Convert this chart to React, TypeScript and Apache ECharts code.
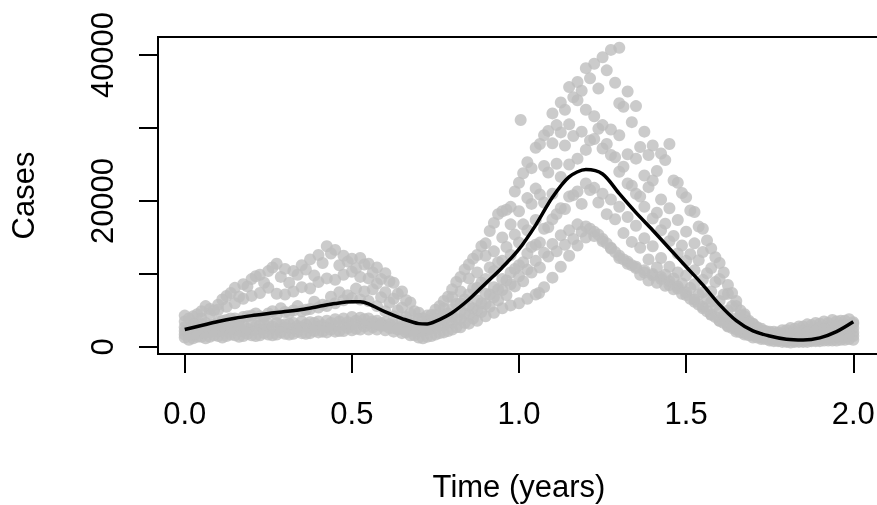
import React, { useEffect, useRef } from "react";
import * as echarts from "echarts";

// Sampling times (years) for the first six trajectories
const times = [0, 0.025, 0.05, 0.075, 0.1, 0.125, 0.15, 0.175, 0.2, 0.225, 0.25, 0.275, 0.3, 0.325, 0.35, 0.375, 0.4, 0.425, 0.45, 0.475, 0.5, 0.525, 0.55, 0.575, 0.6, 0.625, 0.65, 0.675, 0.7, 0.725, 0.75, 0.775, 0.8, 0.825, 0.85, 0.875, 0.9, 0.925, 0.95, 0.975, 1, 1.025, 1.05, 1.075, 1.1, 1.125, 1.15, 1.175, 1.2, 1.225, 1.25, 1.275, 1.3, 1.325, 1.35, 1.375, 1.4, 1.425, 1.45, 1.475, 1.5, 1.525, 1.55, 1.575, 1.6, 1.625, 1.65, 1.675, 1.7, 1.725, 1.75, 1.775, 1.8, 1.825, 1.85, 1.875, 1.9, 1.925, 1.95, 1.975, 2];
// Sampling times (years) for the other four trajectories
const timesMid = [0.0125, 0.0375, 0.0625, 0.0875, 0.1125, 0.1375, 0.1625, 0.1875, 0.2125, 0.2375, 0.2625, 0.2875, 0.3125, 0.3375, 0.3625, 0.3875, 0.4125, 0.4375, 0.4625, 0.4875, 0.5125, 0.5375, 0.5625, 0.5875, 0.6125, 0.6375, 0.6625, 0.6875, 0.7125, 0.7375, 0.7625, 0.7875, 0.8125, 0.8375, 0.8625, 0.8875, 0.9125, 0.9375, 0.9625, 0.9875, 1.0125, 1.0375, 1.0625, 1.0875, 1.1125, 1.1375, 1.1625, 1.1875, 1.2125, 1.2375, 1.2625, 1.2875, 1.3125, 1.3375, 1.3625, 1.3875, 1.4125, 1.4375, 1.4625, 1.4875, 1.5125, 1.5375, 1.5625, 1.5875, 1.6125, 1.6375, 1.6625, 1.6875, 1.7125, 1.7375, 1.7625, 1.7875, 1.8125, 1.8375, 1.8625, 1.8875, 1.9125, 1.9375, 1.9625, 1.9875];

// Observed cases, one array per trajectory (grey points)
const casesA = [4300, 4200, 4900, 5200, 5800, 7000, 8100, 8600, 9300, 9900,
  10400, 11400, 10700, 10400, 11200, 12000, 12600, 13800, 13300, 12500,
  12100, 12200, 11400, 10900, 10100, 8800, 7600, 6100, 4700, 4300,
  5100, 6300, 7900, 9600, 11300, 12600, 14200, 17000, 18600, 19200,
  22500, 25300, 27300, 29000, 32000, 33500, 35600, 36300, 38200, 38800,
  39700, 40700, 41000, 35000, 33000, 29500, 27600, 26500, 27800, 22500,
  20500, 18500, 16200, 13500, 11500, 8500, 6300, 4500, 3200, 2500,
  2100, 2000, 2300, 2500, 2800, 3000, 3200, 3300, 3500, 3600, 3400];
const casesB = [3500, 3300, 3900, 4600, 5100, 5500, 6000, 6600, 7000, 7400,
  8100, 7300, 7200, 7600, 8200, 8000, 8900, 9400, 9200, 9900,
  10300, 9600, 9400, 8700, 7500, 6600, 5400, 4600, 3900, 3700,
  4400, 5300, 6800, 7600, 9400, 10200, 12500, 13100, 15000, 16800,
  18600, 20400, 21700, 24800, 27900, 29400, 30500, 33800, 32500, 31600,
  30400, 29800, 29000, 26400, 25800, 23500, 22800, 20200, 19000, 17400,
  15800, 14200, 13000, 10800, 9300, 7300, 5600, 4200, 3100, 2300,
  1900, 1800, 2000, 2100, 2300, 2400, 2700, 2800, 3000, 3100, 3200];
const casesC = [2700, 2900, 3100, 3000, 3500, 3700, 3900, 4100, 4300, 4200,
  4600, 4400, 4800, 5000, 4900, 5200, 5400, 5600, 6000, 6400,
  6700, 6500, 6300, 5600, 4900, 4200, 3600, 3200, 3000, 3300,
  3700, 4300, 5200, 6000, 7200, 8100, 9300, 10400, 11800, 12600,
  14300, 16000, 17400, 19800, 21000, 23300, 25000, 25800, 27000, 28500,
  27200, 26300, 24000, 22400, 21000, 19200, 17600, 16000, 14500, 12800,
  11800, 10500, 9200, 7600, 6300, 5000, 3900, 3100, 2500, 2000,
  1700, 1500, 1600, 1600, 1800, 1900, 2100, 2200, 2400, 2500, 2600];
const casesD = [2200, 2000, 2400, 2500, 2700, 2600, 2900, 3000, 3100, 3000,
  3200, 3300, 3100, 3300, 3500, 3400, 3500, 3600, 3800, 3900,
  4100, 4000, 3900, 3600, 3400, 3000, 2800, 2600, 2600, 2900,
  3200, 3600, 4200, 4800, 5600, 6400, 7300, 8200, 9300, 10200,
  11200, 12800, 14000, 16200, 17500, 19000, 20600, 21300, 22400, 21800,
  21000, 20200, 19200, 17800, 16600, 14900, 13800, 12200, 11000, 10200,
  9800, 8600, 7500, 6200, 5000, 4000, 3100, 2500, 2000, 1700,
  1300, 1200, 1100, 1100, 1300, 1300, 1500, 1600, 1800, 1900, 2000];
const casesE = [1700, 1600, 1900, 2000, 2100, 2200, 2300, 2200, 2300, 2400,
  2500, 2400, 2600, 2500, 2700, 2600, 2800, 2700, 2900, 3000,
  3100, 3200, 3200, 3100, 2900, 2600, 2400, 2200, 2100, 2300,
  2600, 2900, 3300, 3800, 4400, 5000, 5900, 6800, 7800, 8600,
  9700, 10600, 11800, 12900, 14100, 15300, 16000, 16800, 16500, 15800,
  14800, 13500, 12200, 11400, 10800, 10200, 9800, 9300, 8500, 8000,
  7100, 6200, 5300, 4400, 3600, 2900, 2400, 1900, 1600, 1300,
  1100, 1000, 900, 900, 1000, 1000, 1100, 1200, 1300, 1300, 1500];
const casesF = [1300, 1200, 1400, 1400, 1500, 1500, 1600, 1500, 1600, 1600,
  1700, 1700, 1800, 1800, 1900, 1900, 2000, 2000, 2100, 2200,
  2300, 2400, 2400, 2400, 2300, 2100, 1900, 1600, 1300, 1400,
  1700, 2000, 2400, 2700, 3200, 3600, 4200, 4700, 5300, 5700,
  6000, 6600, 7200, 8200, 9500, 11000, 12500, 13900, 15000, 15200,
  14500, 13600, 12500, 11700, 11000, 10500, 10000, 9600, 9000, 8300,
  7500, 6500, 5500, 4500, 3600, 2800, 2100, 1700, 1300, 1100,
  900, 800, 700, 700, 700, 800, 800, 900, 900, 1000, 1000];
const casesG = [3900, 4500, 5600, 5000, 6500, 7400, 6900, 8300, 9700, 8800,
  10900, 9600, 8800, 9900, 10600, 9800, 11500, 12800, 11200, 11700,
  10800, 11300, 10200, 9300, 9000, 7300, 6400, 4900, 3900, 4400,
  5600, 6900, 8900, 10600, 12100, 13800, 15900, 18200, 18800, 21300,
  23800, 24500, 27800, 29600, 30400, 32500, 34200, 35100, 36800, 35400,
  37900, 36200, 32900, 30800, 27400, 26300, 24100, 25600, 22800, 21100,
  18700, 16500, 14600, 12300, 10200, 7400, 5000, 3600, 2700, 2200,
  2100, 2300, 2600, 2800, 3100, 3300, 3500, 3700, 3600, 3800];
const casesH = [2400, 2800, 3300, 3100, 3600, 3900, 3500, 4200, 4600, 4100,
  4900, 5300, 4700, 5600, 5100, 6200, 5800, 6900, 7500, 7100,
  8000, 7600, 7900, 6800, 6100, 5000, 4100, 3300, 2700, 3100,
  3900, 4600, 5900, 6500, 8000, 8800, 10900, 11600, 13700, 15400,
  16800, 19600, 20900, 23900, 25100, 27600, 28900, 29500, 28300, 29900,
  27800, 26000, 24700, 22100, 20600, 21900, 18400, 16900, 15200, 13900,
  12700, 11900, 10100, 8900, 7200, 5600, 4300, 3400, 2600, 2100,
  1800, 1700, 1700, 1900, 2000, 2200, 2400, 2500, 2800, 2900];
const casesI = [1900, 2300, 2100, 2600, 2400, 2800, 2700, 2500, 2900, 3100,
  2800, 3000, 3200, 2900, 3100, 3300, 3000, 3300, 3500, 3400,
  3600, 3800, 3500, 3300, 3100, 2700, 2400, 2200, 2300, 2600,
  2900, 3400, 3800, 4600, 5300, 6000, 7200, 7900, 9100, 10700,
  11600, 13700, 14300, 16400, 18200, 18900, 20800, 19600, 21500, 19800,
  18200, 17500, 15600, 14400, 13600, 12000, 10900, 9900, 9400, 8700,
  8100, 7200, 6600, 5700, 4300, 3500, 2700, 2100, 1600, 1300,
  1100, 1000, 1000, 1100, 1200, 1400, 1500, 1700, 1800, 2000];
const casesJ = [1000, 1400, 1200, 1600, 1300, 1700, 1400, 1800, 1500, 1900,
  1600, 2000, 1700, 2100, 1800, 2200, 2100, 2400, 2200, 2600,
  2500, 2800, 2700, 2900, 2600, 2400, 2000, 1600, 1200, 1500,
  1900, 2200, 2700, 3300, 3900, 4800, 5500, 6400, 7100, 8300,
  9000, 10200, 10900, 12400, 13100, 14000, 14800, 15800, 16200, 15400,
  14200, 13000, 12000, 11200, 9900, 9100, 8800, 8400, 7900, 7300,
  6600, 5800, 4900, 4100, 3300, 2600, 2000, 1600, 1300, 1100,
  800, 700, 600, 700, 700, 800, 900, 900, 1000, 1100];
const extraTimes = [1.005, 1.3, 1.06];
const extraCases = [31100, 33400, 7400];

// Smoothed fit (black line)
const fitTimes = [0, 0.05, 0.1, 0.15, 0.2, 0.25, 0.3, 0.35, 0.4, 0.45, 0.5, 0.525, 0.55, 0.6, 0.65, 0.7, 0.725, 0.75, 0.8, 0.85, 0.9, 0.95, 1, 1.05, 1.1, 1.15, 1.2, 1.25, 1.3, 1.35, 1.4, 1.45, 1.5, 1.55, 1.6, 1.65, 1.7, 1.75, 1.8, 1.85, 1.9, 1.95, 2];
const fitCases = [2400, 2950, 3500, 3950, 4300, 4600, 4850, 5150, 5550, 5950, 6200, 6200, 5900, 4800, 3900, 3200, 3150, 3500, 4700, 6500, 8700, 10900, 13400, 16700, 20500, 23300, 24300, 23700, 21000, 18400, 16000, 13500, 11000, 8500, 5800, 3600, 2200, 1500, 1050, 950, 1250, 2100, 3450];

const xTicks = [0, 0.5, 1, 1.5, 2];
const yTicks = [0, 10000, 20000, 30000, 40000];
const yLabels = [0, 20000, 40000];

export default function App() {
  const ref = useRef<HTMLDivElement>(null);
  useEffect(() => {
    const chart = echarts.init(ref.current as HTMLDivElement, null, { renderer: "svg" });
    const pts: number[][] = [];
    [casesA, casesB, casesC, casesD, casesE, casesF].forEach((b) =>
      b.forEach((v, i) => pts.push([times[i], v]))
    );
    [casesG, casesH, casesI, casesJ].forEach((b) =>
      b.forEach((v, i) => pts.push([timesMid[i], v]))
    );
    extraTimes.forEach((t, i) => pts.push([t, extraCases[i]]));
    const fit = fitTimes.map((t, i) => [t, fitCases[i]]);
    const font = {
      fontFamily: "'Liberation Sans', Arial, Helvetica, sans-serif",
      fontSize: 31,
      color: "#000",
    };
    chart.setOption({
      animation: false,
      grid: {
        left: 158,
        top: 37,
        width: 722,
        height: 317,
        show: true,
        containLabel: false,
        outerBoundsMode: "none",
        borderColor: "#000",
        borderWidth: 2,
        backgroundColor: "transparent",
      },
      xAxis: {
        type: "value",
        min: -0.08,
        max: 2.08,
        name: "Time (years)",
        nameLocation: "middle",
        nameGap: 117,
        nameTextStyle: font,
        axisLine: { show: false, onZero: false },
        splitLine: { show: false },
        axisTick: {
          show: true,
          customValues: xTicks,
          length: 19,
          lineStyle: { color: "#000", width: 2 },
        },
        axisLabel: {
          customValues: xTicks,
          formatter: (v: number) => v.toFixed(1),
          margin: 44,
          showMinLabel: true,
          showMaxLabel: true,
          ...font,
        },
      },
      yAxis: {
        type: "value",
        min: -959,
        max: 42466,
        name: "Cases",
        nameLocation: "middle",
        nameGap: 119,
        nameTextStyle: font,
        axisLine: { show: false, onZero: false },
        splitLine: { show: false },
        axisTick: {
          show: true,
          customValues: yTicks,
          length: 19,
          lineStyle: { color: "#000", width: 2 },
        },
        axisLabel: {
          customValues: yLabels,
          formatter: (v: number) => String(v),
          rotate: 90,
          margin: 40,
          showMinLabel: true,
          showMaxLabel: true,
          ...font,
        },
      },
      series: [
        {
          type: "scatter",
          data: pts,
          symbolSize: 12,
          itemStyle: { color: "#BEBEBE" },
          silent: true,
          z: 1,
        },
        {
          type: "line",
          data: fit,
          showSymbol: false,
          smooth: 0.3,
          lineStyle: { color: "#000", width: 3.5 },
          silent: true,
          z: 2,
        },
      ],
    });
    return () => chart.dispose();
  }, []);
  return (
    <div
      ref={ref}
      style={{ position: "fixed", left: 0, top: 0, width: 877, height: 505 }}
    />
  );
}
